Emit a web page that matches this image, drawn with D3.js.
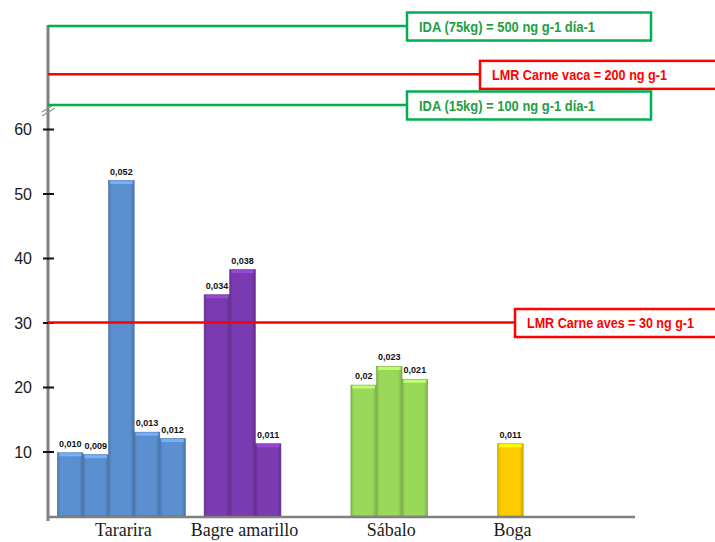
<!DOCTYPE html>
<html><head><meta charset="utf-8">
<script src="https://cdn.jsdelivr.net/npm/d3@7"></script>
<style>body{margin:0;background:#fff}svg{display:block}</style>
</head><body>
<script>
// ---- data ----
const categories = ["Tararira", "Bagre amarillo", "Sábalo", "Boga"];
const tararira = [9.8, 9.5, 52, 13, 12];
const bagre = [34.3, 38.2, 11.2];
const sabalo = [20.3, 23.2, 21.2];
const boga = [11.2];
const tararaLabels = ["0,010", "0,009", "0,052", "0,013", "0,012"];
const bagreLabels = ["0,034", "0,038", "0,011"];
const sabaloLabels = ["0,02", "0,023", "0,021"];
const bogaLabels = ["0,011"];
const yTicks = [10, 20, 30, 40, 50, 60];
const limitsLow = [{value: 30, label: "LMR Carne aves = 30 ng g-1", kind: "lmr"}];
const limitsHigh = [
  {value: 500, label: "IDA (75kg) = 500 ng g-1 día-1", kind: "ida"},
  {value: 200, label: "LMR Carne vaca = 200 ng g-1", kind: "lmr"},
  {value: 100, label: "IDA (15kg) = 100 ng g-1 día-1", kind: "ida"}
];

const groups = [
  {cat: categories[0], values: tararira, labels: tararaLabels, color: "#5b8fd0"},
  {cat: categories[1], values: bagre, labels: bagreLabels, color: "#7b3bb0"},
  {cat: categories[2], values: sabalo, labels: sabaloLabels, color: "#9ad85a"},
  {cat: categories[3], values: boga, labels: bogaLabels, color: "#ffcc00"}
];

const W = 715, H = 542;
const svg = d3.select("body").append("svg").attr("width", W).attr("height", H);

const axisX = 48, axisRight = 635;
const y = d3.scaleLinear().domain([0, 60]).range([516, 129]);
const yHigh = d3.scalePow().exponent(0.22).domain([100, 500]).range([105, 26]);
const x0 = d3.scaleBand().domain(categories).range([axisX, axisRight]).paddingInner(0).paddingOuter(0);
const x1 = d3.scaleBand().domain(d3.range(5)).range([0, x0.bandwidth()]).paddingInner(0).paddingOuter(0.366);

const defs = svg.append("defs");
groups.forEach((g, i) => {
  const c = d3.color(g.color);
  const grad = defs.append("linearGradient").attr("id", "g" + i).attr("x1", "0").attr("x2", "1").attr("y1", "0").attr("y2", "0");
  grad.append("stop").attr("offset", "0").attr("stop-color", c.darker(0.5));
  grad.append("stop").attr("offset", "0.12").attr("stop-color", c.formatHex());
  grad.append("stop").attr("offset", "0.85").attr("stop-color", c.formatHex());
  grad.append("stop").attr("offset", "1").attr("stop-color", c.darker(0.6));
});

const colors = {ida: "#00b050", lmr: "#ff0000"};
const textColors = {ida: "#1fa043", lmr: "#ff0000"};

// bars
groups.forEach((g, i) => {
  const gg = svg.append("g").attr("transform", `translate(${x0(g.cat)},0)`);
  const c = d3.color(g.color);
  g.values.forEach((v, j) => {
    const bx = x1(j), bw = x1.bandwidth();
    gg.append("rect").attr("x", bx).attr("y", y(v)).attr("width", bw).attr("height", y(0) - y(v))
      .attr("fill", `url(#g${i})`).attr("stroke", c.darker(0.7)).attr("stroke-width", 0.6);
    gg.append("rect").attr("x", bx + 1.5).attr("y", y(v) + 0.5).attr("width", bw - 3).attr("height", 3)
      .attr("fill", c.brighter(0.6));
    gg.append("text").attr("x", bx + bw / 2).attr("y", y(v) - 6)
      .attr("text-anchor", "middle").attr("font-family", "Liberation Sans Narrow, Liberation Sans, sans-serif")
      .attr("font-size", 9).attr("font-weight", "bold").attr("fill", "#111")
      .attr("stroke", "#fff").attr("stroke-width", 1.5).attr("paint-order", "stroke")
      .text(g.labels[j]);
  });
  const cx = x0(g.cat) + x1(0) + (x1.bandwidth() * g.values.length) / 2;
  svg.append("text").attr("x", cx + 2).attr("y", 536).attr("text-anchor", "middle")
    .attr("font-family", "Liberation Serif, serif").attr("font-size", 18).attr("fill", "#1a1a1a").text(g.cat);
});

function drawLimit(d, yy, boxX, boxW, textW) {
  const col = colors[d.kind];
  svg.append("line").attr("x1", axisX).attr("x2", boxX).attr("y1", yy).attr("y2", yy)
    .attr("stroke", col).attr("stroke-width", 2.5);
  svg.append("rect").attr("x", boxX).attr("y", yy - 13.5).attr("width", boxW).attr("height", 28)
    .attr("fill", "#fff").attr("stroke", col).attr("stroke-width", 2.5);
  svg.append("text").attr("x", boxX + 12).attr("y", yy + 5.5)
    .attr("font-family", "Liberation Sans Narrow, Arial Narrow, Liberation Sans, sans-serif")
    .attr("font-size", 14).attr("font-weight", 600).attr("fill", textColors[d.kind])
    .attr("textLength", textW).attr("lengthAdjust", "spacingAndGlyphs").text(d.label);
}

// y axis
svg.append("line").attr("x1", axisX).attr("x2", axisX).attr("y1", 25).attr("y2", 521)
  .attr("stroke", "#808080").attr("stroke-width", 3);
// x axis
svg.append("line").attr("x1", axisX).attr("x2", axisRight).attr("y1", y(0) + 1).attr("y2", y(0) + 1)
  .attr("stroke", "#808080").attr("stroke-width", 2.5);

// axis break mark
const brk = svg.append("g").attr("stroke", "#909090").attr("stroke-width", 1.2);
brk.append("line").attr("x1", 42).attr("x2", 55).attr("y1", 112).attr("y2", 104);
brk.append("line").attr("x1", 42).attr("x2", 55).attr("y1", 116).attr("y2", 108);

// ticks
const yAxis = d3.axisLeft(y).tickValues(yTicks).tickSize(0).tickPadding(0).tickFormat(d3.format("d"));
const ag = svg.append("g").attr("transform", `translate(${axisX},0)`).call(yAxis);
ag.select(".domain").remove();
ag.selectAll(".tick line").remove();
ag.selectAll(".tick").append("line").attr("x1", -5).attr("x2", 6).attr("stroke", "#111").attr("stroke-width", 2);
ag.selectAll(".tick text").attr("x", -16).attr("dy", "0.35em")
  .attr("font-family", "Liberation Sans, Arial, sans-serif").attr("font-size", 16).attr("fill", "#1a1a1a");

// limits
limitsHigh.forEach(d => {
  if (d.kind === "ida") drawLimit(d, yHigh(d.value), 407, 244, 176);
  else drawLimit(d, yHigh(d.value), 480, 240, 175);
});
limitsLow.forEach(d => drawLimit(d, y(d.value), 515, 205, 167));
</script>
</body></html>
